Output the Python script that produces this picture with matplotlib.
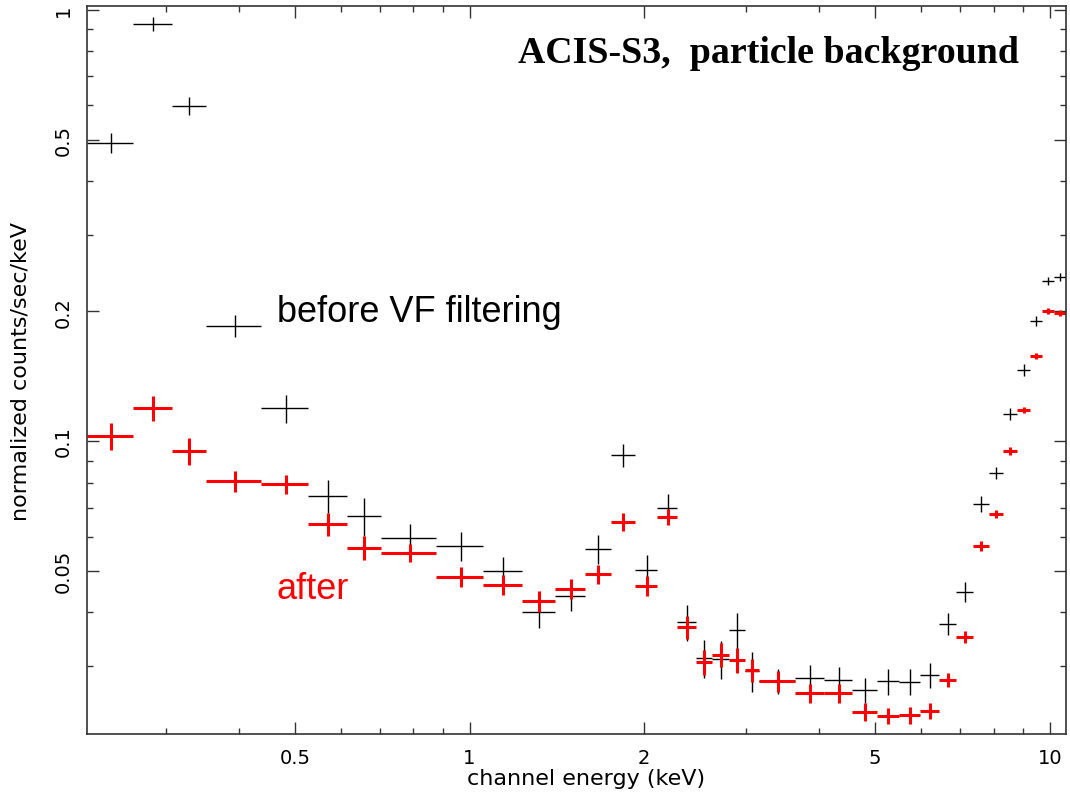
import matplotlib.pyplot as plt
import numpy as np
from matplotlib.ticker import FixedLocator, LogLocator, FuncFormatter, NullFormatter

# Energy bin edges (keV), shared by both spectra
edges = [0.219, 0.263, 0.307, 0.351, 0.438, 0.526, 0.614, 0.703, 0.877, 1.053,
         1.229, 1.406, 1.583, 1.752, 1.931, 2.107, 2.280, 2.459, 2.619, 2.803,
         2.985, 3.156, 3.640, 4.083, 4.562, 5.038, 5.497, 5.973, 6.441, 6.891,
         7.371, 7.853, 8.301, 8.775, 9.239, 9.688, 10.16, 10.66]

# Before VF filtering (black)
before = [0.491, 0.928, 0.599, 0.185, 0.119, 0.0745, 0.0670, 0.0596, 0.0571, 0.0499,
          0.0401, 0.0437, 0.0562, 0.0928, 0.0502, 0.0699, 0.0380, 0.0314, 0.0312, 0.0364,
          0.0293, 0.0277, 0.0282, 0.0279, 0.0264, 0.0277, 0.0276, 0.0286, 0.0376, 0.0446,
          0.0714, 0.0843, 0.1155, 0.1461, 0.1898, 0.235, 0.240]
before_err = [0.026, 0.035, 0.029, 0.011, 0.009, 0.0066, 0.0067, 0.0045, 0.0045, 0.0040,
              0.0032, 0.0033, 0.0043, 0.0057, 0.0042, 0.0055, 0.0037, 0.0032, 0.0032, 0.0035,
              0.0031, 0.0018, 0.0020, 0.0020, 0.0018, 0.0019, 0.0019, 0.0019, 0.0022, 0.0024,
              0.0030, 0.0027, 0.0038, 0.0048, 0.0051, 0.0050, 0.0050]

# After VF filtering (red)
after = [0.1027, 0.1193, 0.0948, 0.0808, 0.0795, 0.0642, 0.0565, 0.0550, 0.0484, 0.0463,
         0.0425, 0.0453, 0.0491, 0.0649, 0.0461, 0.0666, 0.0370, 0.0307, 0.0319, 0.0310,
         0.0294, 0.0277, 0.0260, 0.0260, 0.0235, 0.0230, 0.0231, 0.0236, 0.0279, 0.0351,
         0.0571, 0.0677, 0.0948, 0.1180, 0.1575, 0.2002, 0.1982]
after_err = [0.0072, 0.0080, 0.0068, 0.0045, 0.0040, 0.0040, 0.0037, 0.0027, 0.0025, 0.0025,
             0.0023, 0.0024, 0.0025, 0.0031, 0.0024, 0.0028, 0.0022, 0.0020, 0.0020, 0.0020,
             0.0018, 0.0016, 0.0013, 0.0013, 0.0011, 0.0010, 0.0010, 0.0010, 0.0011, 0.0012,
             0.0015, 0.0015, 0.0020, 0.0019, 0.0025, 0.0032, 0.0032]

edges = np.array(edges)
x = (edges[:-1] + edges[1:]) / 2
xerr = (edges[1:] - edges[:-1]) / 2

fig = plt.figure(figsize=(10.7, 8.04), dpi=100)
ax = fig.add_axes([0.0813, 0.0858, 0.915, 0.9055])

ax.errorbar(x, before, xerr=xerr, yerr=before_err, fmt='none', ecolor='black',
            elinewidth=1.0, capsize=0)
ax.errorbar(x, after, xerr=xerr, yerr=after_err, fmt='none', ecolor='#ff0000',
            elinewidth=2.2, capsize=0)

ax.set_xscale('log')
ax.set_yscale('log')
ax.set_xlim(0.2192, 10.66)
ax.set_ylim(0.0209, 1.02)

fmt = FuncFormatter(lambda v, p: f'{v:g}')
ax.xaxis.set_major_locator(FixedLocator([0.5, 1, 2, 5, 10]))
ax.xaxis.set_minor_locator(LogLocator(base=10, subs=(3, 4, 6, 7, 8, 9)))
ax.yaxis.set_major_locator(FixedLocator([0.05, 0.1, 0.2, 0.5, 1]))
ax.yaxis.set_minor_locator(LogLocator(base=10, subs=(3, 4, 6, 7, 8, 9)))
ax.xaxis.set_major_formatter(fmt)
ax.yaxis.set_major_formatter(fmt)
ax.xaxis.set_minor_formatter(NullFormatter())
ax.yaxis.set_minor_formatter(NullFormatter())

ax.tick_params(which='both', direction='in', top=True, right=True, color='#333333',
               labelsize=14, width=1.0)
ax.tick_params(which='major', length=8.6)
ax.tick_params(which='minor', length=4.3)
ax.tick_params(axis='x', pad=10)
ax.tick_params(axis='y', pad=10, labelrotation=90)
for lab in ax.get_yticklabels():
    lab.set_va('center')

for spine in ax.spines.values():
    spine.set_linewidth(1.2)
    spine.set_color('#333333')

ax.set_xlabel('channel energy (keV)', fontsize=16)
ax.xaxis.set_label_coords(0.51, -0.047)
ax.set_ylabel('normalized counts/sec/keV', fontsize=16)
ax.yaxis.set_label_coords(-0.058, 0.5)

ax.text(0.6965, 0.936, 'ACIS-S3,  particle background', transform=ax.transAxes,
        family='Liberation Serif', fontweight='bold', fontsize=27.3,
        ha='center', va='center')
ax.text(0.194, 0.58, 'before VF filtering', transform=ax.transAxes,
        family='Liberation Sans', fontsize=26, ha='left', va='center')
ax.text(0.194, 0.20, 'after', transform=ax.transAxes, color='#ff0000',
        family='Liberation Sans', fontsize=26, ha='left', va='center')

fig.savefig('out.png', dpi=100)
